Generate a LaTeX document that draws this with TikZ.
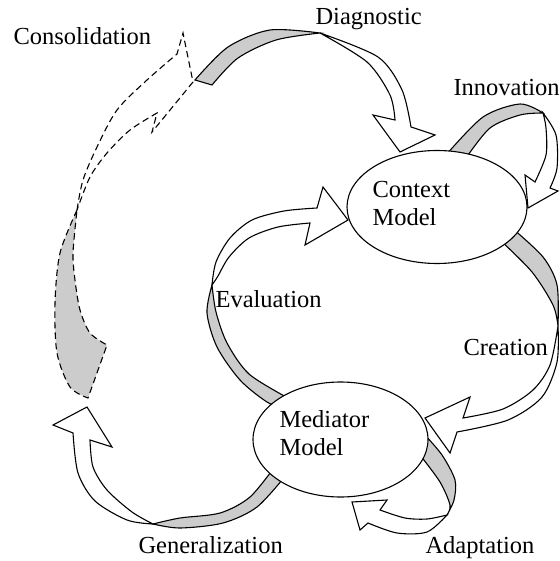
\documentclass[tikz,border=0pt]{standalone}
\usepackage{fontspec}
\setmainfont{Liberation Serif}
\usetikzlibrary{shapes.geometric}
\definecolor{bandgrey}{gray}{0.8}
\begin{document}
\begin{tikzpicture}[x=1pt,y=-1pt, line width=1.1pt, line join=miter,
  back/.style={fill=bandgrey,draw=black},
  front/.style={fill=white,draw=black},
  dashback/.style={fill=bandgrey,draw=black,dash pattern=on 6.5pt off 4pt},
  dashfront/.style={fill=white,draw=black,dash pattern=on 6.5pt off 4pt},
  model/.style={ellipse,draw,fill=white,inner sep=0pt,minimum width=180pt,minimum height=113pt},
  lbl/.style={anchor=base west,inner sep=0pt,font=\fontsize{24.5}{29}\selectfont}]
\useasboundingbox (0,0) rectangle (559,561);

% Consolidation (dashed)
\filldraw[dashback] plot[smooth] coordinates {(77,210) (60,253) (55,303) (57,353) (70,387) (88,398)} -- (107,345) -- plot[smooth] coordinates {(107,345) (90,333) (80,310) (75,280) (73,253) (77,210)} -- cycle;
\filldraw[dashfront] plot[smooth] coordinates {(77,210) (83,180) (97,147) (117,110) (147,80) (177,54)} -- (183,33) -- (193,82) -- (152,132) -- (157,113) -- plot[smooth] coordinates {(157,113) (130,130) (107,153) (90,177) (77,210)} -- cycle;

% Diagnostic
\filldraw[back] plot[smooth] coordinates {(195,80) (228,47) (270,30) (320,33)} -- plot[smooth] coordinates {(320,33) (276,40) (238,58) (212,85)} -- cycle;
\filldraw[front] plot[smooth] coordinates {(320,33) (378,57) (402,90) (411,127)} -- (435,135) -- (400,152) -- (373,115) -- (395,120) -- plot[smooth] coordinates {(395,120) (390,95) (367,62) (320,33)} -- cycle;

% Innovation
\filldraw[back] plot[smooth] coordinates {(446,155) (483,117) (520,104) (543,113)} -- plot[smooth] coordinates {(543,113) (520,115) (490,128) (466,158)} -- cycle;
\filldraw[front] plot[smooth] coordinates {(543,113) (556,135) (557,168) (550,188)} -- (558,191) -- (528,208) -- (525,175) -- (535,182) -- plot[smooth] coordinates {(535,182) (546,155) (546,128) (543,113)} -- cycle;

% Adaptation
\filldraw[back] plot[smooth] coordinates {(420,455) (440,482) (450,505) (447,515)} -- plot[smooth] coordinates {(447,515) (454,500) (455,480) (442,455) (424,434)} -- cycle;
\filldraw[front] plot[smooth] coordinates {(447,515) (427,519) (405,518) (380,510)} -- (387,500) -- (352,502) -- (360,530) -- (368,523) -- plot[smooth] coordinates {(368,523) (397,533) (427,532) (447,515)} -- cycle;

% Creation
\filldraw[back] plot[smooth] coordinates {(512,228) (543,257) (557,285) (558,326)} -- plot[smooth] coordinates {(558,326) (553,305) (532,272) (500,240)} -- cycle;
\filldraw[front] plot[smooth] coordinates {(558,326) (550,365) (533,390) (503,409) (463,418)} -- (470,397) -- (425,418) -- (450,453) -- (457,432) -- plot[smooth] coordinates {(457,432) (508,420) (542,397) (557,362) (558,326)} -- cycle;

% Evaluation
\filldraw[back] plot[smooth] coordinates {(212,285) (207,313) (217,347) (240,380) (267,402) (290,412)} -- plot[smooth] coordinates {(288,398) (249,374) (227,343) (216,312) (212,285)} -- cycle;
\filldraw[front] plot[smooth] coordinates {(212,285) (216,262) (230,238) (252,220) (284,211) (317,208)} -- (323,187) -- (348,220) -- (305,245) -- (310,223) -- plot[smooth] coordinates {(310,223) (278,227) (249,238) (229,257) (218,276) (212,285)} -- cycle;

% Generalization
\filldraw[back] plot[smooth] coordinates {(153,524) (180,528) (223,523) (257,507) (287,474)} -- plot[smooth] coordinates {(276,465) (250,497) (220,513) (180,518) (153,524)} -- cycle;
\filldraw[front] plot[smooth] coordinates {(153,524) (127,520) (95,501) (78,473) (73,433)} -- (53,425) -- (87,407) -- (112,447) -- (90,440) -- plot[smooth] coordinates {(90,440) (93,467) (107,490) (132,512) (153,524)} -- cycle;

% Models
\node[model] (context) at (437,207) {};
\node[model, minimum width=175pt, minimum height=115pt] (mediator) at (340.5,439.5) {};
\node[lbl] (ctxA) at (372,197) {Context};
\node[lbl] (ctxB) at (372,225) {Model};
\node[lbl] (medA) at (279,427) {Mediator};
\node[lbl] (medB) at (279,455) {Model};

% Labels
\node[lbl] (consol) at (13,45) {Consolidation};
\node[lbl] (diag) at (315,25) {Diagnostic};
\node[lbl] (innov) at (453,96) {Innovation};
\node[lbl] (eval) at (215,307) {Evaluation};
\node[lbl] (creat) at (463,355) {Creation};
\node[lbl] (gener) at (138,553) {Generalization};
\node[lbl] (adapt) at (425,553) {Adaptation};
\end{tikzpicture}
\end{document}
